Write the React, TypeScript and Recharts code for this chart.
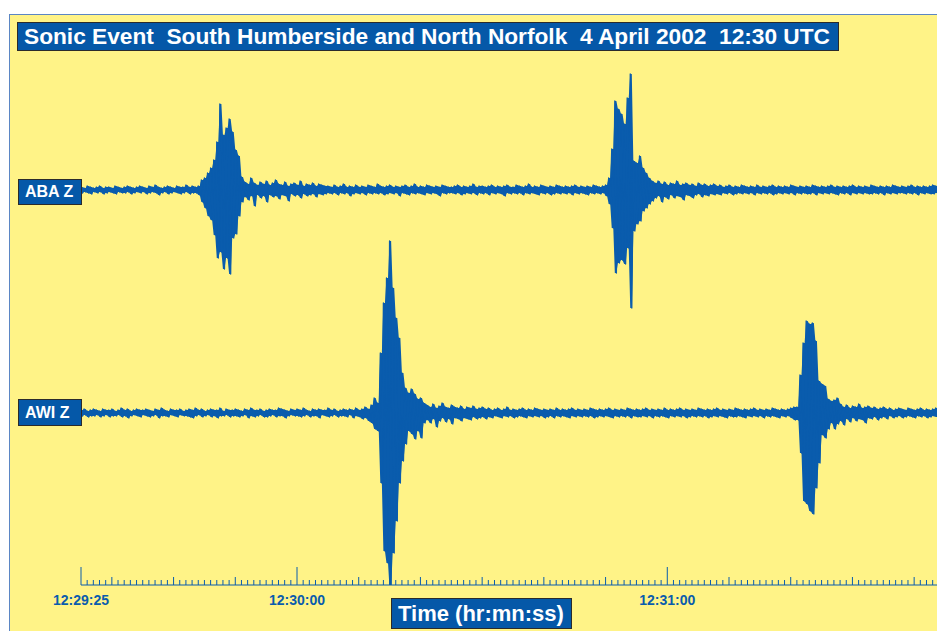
import { Area, ComposedChart, Line, XAxis, YAxis } from "recharts";

const FONT = '"Liberation Sans", Arial, Helvetica, sans-serif';
const BLUE = "#0a5cad";
const BOX_BLUE = "#0558a8";
const YELLOW = "#fff387";

// each trace sample = one high and one low excursion per half second
const STEP = 0.5;
// baselines, in the same units as the plot (1 unit = 1 px above the time axis)
const ABA_BASE = 395;
const AWI_BASE = 172;

// ABA Z, highs of each half-second window
const abaHi = [
  3, 2, 4, 3, 2, 3, 4, 2, 3, 3, 2, 4, 3, 2, 3, 4, 3, 2, 3, 4,
  3, 2, 4, 3, 5, 3, 2, 3, 4, 3, 2, 4, 3, 3, 5, 3, 4, 3,
  4, 10, 12, 17, 22, 30, 48, 86, 55, 62, 71, 58, 40, 34, 13,
  8, 6, 12, 7, 5, 8, 6, 9, 5, 7, 10, 6, 5, 8, 4, 6, 7, 5, 9, 4, 6, 5, 7, 4, 6, 5, 4,
  4, 3, 5, 3, 4, 6, 3, 4, 3, 5,
  3, 4, 3, 5, 4, 3, 6, 4, 3, 4,
  5, 3, 4, 3, 4, 5, 3, 4, 6, 3,
  4, 3, 5, 4, 3, 4, 3, 5, 4, 3,
  3, 4, 5, 3, 4, 3, 4, 6, 3, 4,
  4, 3, 4, 5, 3, 4, 3, 4, 5, 3,
  3, 5, 4, 3, 4, 6, 3, 4, 3, 5,
  4, 3, 4, 3, 5, 4, 3, 4, 3, 4,
  5, 3, 4, 3, 4, 3, 5, 4, 3, 4,
  5, 12, 41, 89, 81, 76, 66, 92, 116, 29, 27, 34, 22, 17, 12, 9,
  7, 9, 6, 8, 5, 7, 6, 9, 5, 6,
  7, 5, 6, 4, 7, 5, 6, 4, 5, 6,
  4, 5, 3, 4, 5, 3, 4, 3, 5, 4,
  3, 4, 3, 5, 3, 4, 3, 4, 5, 3,
  4, 3, 4, 3, 5, 4, 3, 4, 3, 4,
  3, 5, 4, 3, 4, 3, 4, 5, 3, 4,
  3, 4, 3, 4, 5, 3, 4, 3, 4, 3,
  5, 4, 3, 4, 3, 4, 3, 5, 4, 3,
  4, 3, 4, 5, 3, 4, 3, 4, 3, 4,
  5, 4,
];

// ABA Z, lows of each half-second window
const abaLo = [
  -3, -2, -3, -4, -2, -3, -2, -4, -3, -2, -3, -4, -2, -3, -3, -2, -4, -3, -2, -3,
  -2, -4, -3, -2, -3, -5, -3, -2, -4, -3, -2, -3, -4, -3, -2, -4, -3, -3,
  -5, -12, -18, -26, -30, -45, -68, -62, -79, -68, -84, -48, -44, -26, -12,
  -7, -10, -6, -16, -5, -8, -6, -12, -5, -7, -6, -9, -5, -6, -11, -4, -6, -5, -8, -4, -6, -5, -4, -7, -4, -5, -4,
  -3, -4, -3, -5, -3, -4, -3, -6, -4, -3,
  -4, -3, -5, -3, -4, -3, -4, -3, -5, -4,
  -3, -4, -3, -6, -3, -4, -5, -3, -4, -3,
  -4, -5, -3, -4, -3, -4, -6, -3, -4, -3,
  -3, -4, -3, -5, -4, -3, -4, -3, -5, -3,
  -4, -3, -5, -3, -4, -3, -4, -6, -3, -4,
  -3, -4, -3, -5, -3, -4, -3, -4, -5, -3,
  -4, -3, -5, -4, -3, -4, -3, -4, -3, -5,
  -3, -4, -3, -4, -5, -3, -4, -3, -4, -3,
  -6, -14, -38, -83, -73, -70, -74, -58, -118, -41, -34, -31, -21, -18, -14, -11,
  -8, -6, -12, -7, -9, -5, -8, -6, -7, -10,
  -5, -6, -8, -5, -4, -7, -5, -6, -4, -5,
  -4, -5, -3, -4, -3, -5, -4, -3, -4, -3,
  -4, -3, -5, -3, -4, -3, -4, -3, -5, -4,
  -3, -4, -3, -4, -3, -5, -3, -4, -3, -4,
  -4, -3, -5, -3, -4, -3, -4, -3, -4, -5,
  -3, -4, -3, -5, -3, -4, -3, -4, -3, -4,
  -4, -3, -4, -3, -5, -3, -4, -3, -4, -3,
  -3, -4, -3, -4, -3, -5, -3, -4, -3, -4,
  -4, -3,
];

// AWI Z, highs of each half-second window
const awiHi = [
  3, 4, 2, 3, 4, 3, 2, 4, 3, 3,
  4, 2, 3, 5, 3, 4, 2, 3, 4, 3,
  3, 4, 3, 2, 4, 3, 5, 3, 2, 4,
  3, 3, 4, 2, 3, 4, 3, 5, 3, 4,
  2, 3, 4, 3, 3, 5, 2, 4, 3, 3,
  4, 3, 2, 4, 3, 5, 3, 3, 4, 2,
  3, 4, 3, 3, 5, 4, 3, 2, 4, 3,
  4, 3, 5, 3, 2, 4, 3, 4, 3, 3,
  5, 3, 4, 2, 3, 4, 3, 4, 3, 5,
  3, 4, 6, 4,
  8, 15, 10, 60, 110, 135, 172, 125, 95, 75, 40, 25, 20, 24, 19, 14, 15, 10,
  8, 6, 9, 5, 7, 10, 6, 5, 8, 6,
  5, 7, 4, 6, 5, 7, 4, 5, 6, 4,
  5, 3, 4, 5, 3, 4, 6, 3, 4, 3,
  4, 5, 3, 4, 3, 5, 4, 3, 4, 3,
  4, 3, 5, 3, 4, 3, 4, 5, 3, 4,
  3, 4, 3, 5, 4, 3, 4, 3, 4, 5,
  3, 4, 3, 4, 3, 5, 4, 3, 4, 3,
  4, 5, 3, 4, 3, 4, 3, 5, 3, 4,
  3, 4, 5, 3, 4, 3, 4, 3, 5, 4,
  3, 4, 3, 4, 5, 3, 4, 3, 4, 3,
  5, 4, 3, 4, 3, 4, 5, 3, 4, 3,
  4, 3, 5, 4, 3, 4, 3, 4, 5, 6,
  6, 38, 70, 92, 89, 90, 72, 32, 29, 27, 14, 12, 13, 15,
  9, 6, 8, 5, 7, 6, 9, 5, 6, 7,
  5, 6, 4, 5, 6, 4, 5, 3, 4, 5,
  4, 3, 5, 4, 3, 4, 5, 3, 4, 3,
  4, 5,
];

// AWI Z, lows of each half-second window
const awiLo = [
  -3, -2, -4, -3, -3, -2, -4, -3, -2, -4,
  -3, -3, -2, -4, -3, -5, -3, -2, -3, -4,
  -2, -3, -4, -3, -2, -5, -3, -3, -4, -2,
  -3, -4, -2, -3, -3, -4, -5, -3, -2, -4,
  -3, -2, -4, -3, -5, -3, -3, -2, -4, -3,
  -3, -4, -3, -2, -5, -3, -4, -3, -2, -4,
  -4, -3, -2, -4, -3, -3, -5, -3, -2, -3,
  -3, -4, -3, -2, -4, -3, -3, -5, -2, -3,
  -4, -3, -2, -4, -3, -3, -4, -2, -5, -3,
  -4, -6, -5, -8,
  -10, -16, -18, -70, -138, -150, -176, -140, -108, -70, -48, -31, -18, -21, -26, -18, -25, -10,
  -7, -10, -6, -14, -8, -5, -9, -6, -11, -5,
  -6, -8, -5, -6, -7, -4, -6, -5, -4, -6,
  -4, -5, -3, -4, -5, -3, -4, -3, -5, -4,
  -3, -4, -5, -3, -4, -3, -4, -3, -5, -4,
  -3, -5, -3, -4, -3, -4, -5, -3, -4, -3,
  -4, -3, -4, -3, -5, -4, -3, -4, -3, -4,
  -5, -3, -4, -3, -4, -3, -5, -3, -4, -4,
  -3, -4, -3, -5, -3, -4, -3, -4, -5, -3,
  -4, -3, -4, -3, -5, -4, -3, -4, -3, -4,
  -3, -5, -4, -3, -4, -3, -4, -5, -3, -4,
  -4, -3, -4, -5, -3, -4, -3, -4, -3, -5,
  -3, -4, -3, -4, -5, -3, -4, -3, -5, -7,
  -7, -40, -88, -91, -98, -101, -75, -50, -22, -25, -16, -10, -16, -11,
  -8, -12, -6, -9, -5, -8, -6, -7, -10, -5,
  -6, -4, -7, -5, -4, -6, -3, -5, -4, -3,
  -5, -4, -3, -4, -5, -3, -4, -3, -5, -4,
  -3, -4,
];

// seconds after 12:29:25
const labelSeconds = [0, 35, 95];
const labelTexts = ["12:29:25", "12:30:00", "12:31:00"];
const secondTicks = Array.from({ length: 140 }, (_, i) => i);

type Row = {
  t: number;
  aba: number;
  awi: number;
  abaBand: [number, number];
  awiBand: [number, number];
};

const rows: Row[] = [];
const n = Math.min(abaHi.length, abaLo.length, awiHi.length, awiLo.length);
for (let k = 0; k < n; k++) {
  const abaBand: [number, number] = [ABA_BASE + abaLo[k], ABA_BASE + abaHi[k]];
  const awiBand: [number, number] = [AWI_BASE + awiLo[k], AWI_BASE + awiHi[k]];
  rows.push({ t: k * STEP, aba: abaBand[1], awi: awiBand[1], abaBand, awiBand });
  rows.push({ t: k * STEP + STEP / 2, aba: abaBand[0], awi: awiBand[0], abaBand, awiBand });
}

function TimeTick(props: any) {
  const { x, y, payload } = props;
  const s = payload.value as number;
  const li = labelSeconds.indexOf(s);
  const h = li >= 0 ? 18 : s % 10 === 5 ? 8 : 5;
  return (
    <g>
      <line x1={x} x2={x} y1={y} y2={y - h} stroke={BLUE} strokeWidth={1} />
      {li >= 0 && (
        <text
          x={x}
          y={y + 20}
          textAnchor="middle"
          fill={BLUE}
          fontFamily={FONT}
          fontWeight="bold"
          fontSize={14}
        >
          {labelTexts[li]}
        </text>
      )}
    </g>
  );
}

function Tag({
  left,
  top,
  width,
  height,
  fontSize,
  children,
}: {
  left: number;
  top: number;
  width: number;
  height: number;
  fontSize: number;
  children: React.ReactNode;
}) {
  return (
    <div
      style={{
        position: "absolute",
        left,
        top,
        width,
        height,
        boxSizing: "border-box",
        background: BOX_BLUE,
        border: "1px solid #2b2b2b",
        color: "#fff",
        fontFamily: FONT,
        fontWeight: "bold",
        fontSize,
        lineHeight: `${height - 2}px`,
        paddingLeft: 6,
        whiteSpace: "nowrap",
        overflow: "hidden",
      }}
    >
      {children}
    </div>
  );
}

export default function App() {
  return (
    <div
      style={{
        position: "fixed",
        left: 0,
        top: 0,
        width: 937,
        height: 631,
        overflow: "hidden",
        background: "#fff",
      }}
    >
      <div
        style={{
          position: "absolute",
          left: 9,
          top: 14,
          width: 940,
          height: 630,
          background: YELLOW,
          borderLeft: "1px solid #5b86c4",
          borderTop: "1px solid #5b86c4",
        }}
      />
      <div style={{ position: "absolute", left: 0, top: 0 }}>
        <ComposedChart
          width={945}
          height={631}
          data={rows}
          margin={{ top: 0, right: 0, bottom: 0, left: 81 }}
        >
          <XAxis
            type="number"
            dataKey="t"
            domain={[0, 140]}
            ticks={secondTicks}
            interval={0}
            tickLine={false}
            tickSize={0}
            tickMargin={0}
            axisLine={{ stroke: BLUE, strokeWidth: 1 }}
            height={46}
            tick={<TimeTick />}
            allowDataOverflow
          />
          <YAxis hide type="number" domain={[0, 585]} allowDataOverflow />
          <Area
            type="linear"
            dataKey="abaBand"
            stroke="none"
            fill={BLUE}
            fillOpacity={1}
            isAnimationActive={false}
          />
          <Area
            type="linear"
            dataKey="awiBand"
            stroke="none"
            fill={BLUE}
            fillOpacity={1}
            isAnimationActive={false}
          />
          <Line
            type="linear"
            dataKey="aba"
            stroke={BLUE}
            strokeWidth={1.3}
            strokeLinejoin="round"
            dot={false}
            isAnimationActive={false}
          />
          <Line
            type="linear"
            dataKey="awi"
            stroke={BLUE}
            strokeWidth={1.3}
            strokeLinejoin="round"
            dot={false}
            isAnimationActive={false}
          />
        </ComposedChart>
      </div>
      <Tag left={17} top={22} width={822} height={29} fontSize={22.7}>
        Sonic Event&nbsp; South Humberside and North Norfolk&nbsp; 4 April
        2002&nbsp; 12:30 UTC
      </Tag>
      <Tag left={18} top={179} width={64} height={26} fontSize={16}>
        ABA Z
      </Tag>
      <Tag left={18} top={399} width={64} height={27} fontSize={16}>
        AWI Z
      </Tag>
      <Tag left={391} top={598} width={181} height={31} fontSize={22}>
        Time (hr:mn:ss)
      </Tag>
    </div>
  );
}
